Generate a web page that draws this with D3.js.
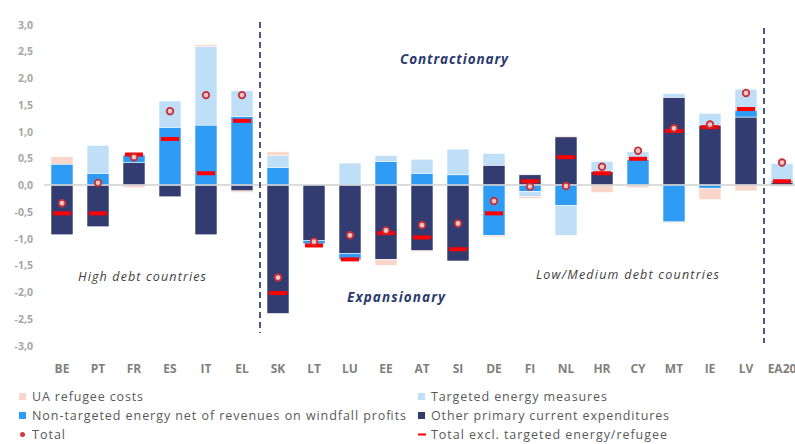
<!DOCTYPE html>
<html>
<head>
<meta charset="utf-8">
<script src="https://cdn.jsdelivr.net/npm/d3@7"></script>
<style>
  body { margin: 0; background: #fff; }
  svg { display: block; font-family: "Open Sans", "Liberation Sans", sans-serif; }
</style>
</head>
<body>
<svg width="795" height="444"></svg>
<script>
// Data
var countries = ["BE", "PT", "FR", "ES", "IT", "EL", "SK", "LT", "LU", "EE", "AT", "SI", "DE", "FI", "NL", "HR", "CY", "MT", "IE", "LV", "EA20"];
var otherPrimary = [-0.93, -0.78, 0.42, -0.22, -0.93, -0.11, -2.40, -1.04, -1.28, -1.39, -1.23, -1.42, 0.37, 0.19, 0.90, 0.25, 0.00, 1.64, 1.12, 1.27, 0.05];
var nonTargeted = [0.39, 0.22, 0.14, 1.08, 1.12, 1.28, 0.33, -0.06, -0.12, 0.44, 0.22, 0.19, -0.94, -0.12, -0.38, 0.00, 0.48, -0.69, -0.06, 0.13, 0.03];
var targeted = [0.00, 0.52, 0.00, 0.49, 1.47, 0.48, 0.22, 0.00, 0.41, 0.11, 0.26, 0.48, 0.22, -0.10, -0.56, 0.19, 0.14, 0.07, 0.22, 0.39, 0.32];
var refugee = [0.14, 0.00, -0.05, 0.00, 0.03, -0.03, 0.07, 0.00, 0.00, -0.11, -0.02, 0.00, -0.03, -0.03, 0.02, -0.14, -0.05, -0.02, -0.21, -0.11, -0.03];
var total = [-0.34, 0.04, 0.52, 1.38, 1.68, 1.68, -1.73, -1.06, -0.94, -0.85, -0.75, -0.72, -0.30, -0.03, -0.02, 0.34, 0.64, 1.06, 1.13, 1.72, 0.42];
var totalExcl = [-0.53, -0.53, 0.57, 0.86, 0.22, 1.20, -2.02, -1.13, -1.39, -0.90, -0.98, -1.20, -0.53, 0.07, 0.52, 0.22, 0.49, 1.01, 1.08, 1.42, 0.07];
var yTicks = [-3, -2.5, -2, -1.5, -1, -0.5, 0, 0.5, 1, 1.5, 2, 2.5, 3];

var svg = d3.select("svg");

var keys = ["other", "nonTargeted", "targeted", "refugee"];
var colors = { other: "#333c70", nonTargeted: "#2e9bf5", targeted: "#bfdff8", refugee: "#f9d6c9" };

var rows = countries.map(function (c, i) {
    return { country: c, other: otherPrimary[i], nonTargeted: nonTargeted[i], targeted: targeted[i], refugee: refugee[i], total: total[i], excl: totalExcl[i] };
});

var x = d3.scaleBand()
    .domain(countries)
    .range([44, 800])
    .paddingInner(0.39)
    .paddingOuter(0.195);

var y = d3.scaleLinear()
    .domain([-3, 3])
    .range([345.5, 24.5]);

// y axis labels
svg.append("g")
    .selectAll("text")
    .data(yTicks)
    .enter()
    .append("text")
    .attr("x", 33)
    .attr("y", function (d) { return y(d) + 4; })
    .attr("text-anchor", "end")
    .attr("font-size", 10.5)
    .attr("font-weight", "bold")
    .attr("fill", "#a6a6a6")
    .text(function (d) { return d3.format(".1f")(d).replace(".", ",").replace("−", "-"); });

// stacked bars
var series = d3.stack().keys(keys).offset(d3.stackOffsetDiverging)(rows);

svg.append("g")
    .selectAll("g")
    .data(series)
    .enter()
    .append("g")
    .attr("fill", function (d) { return colors[d.key]; })
    .selectAll("rect")
    .data(function (d) { return d; })
    .enter()
    .append("rect")
    .attr("x", function (d) { return x(d.data.country); })
    .attr("width", x.bandwidth())
    .attr("y", function (d) { return y(Math.max(d[0], d[1])); })
    .attr("height", function (d) { return Math.abs(y(d[0]) - y(d[1])); })
    .attr("stroke", "#fff")
    .attr("stroke-width", 0.5);

// zero line
svg.append("line")
    .attr("x1", 44)
    .attr("x2", 795)
    .attr("y1", y(0))
    .attr("y2", y(0))
    .attr("stroke", "#d0d0d0")
    .attr("stroke-width", 1.5);

// total excl. targeted energy/refugee (red dashes)
svg.append("g")
    .selectAll("rect")
    .data(rows)
    .enter()
    .append("rect")
    .attr("x", function (d) { return x(d.country) + x.bandwidth() / 2 - 9; })
    .attr("y", function (d) { return y(d.excl) - 2; })
    .attr("width", 18)
    .attr("height", 4)
    .attr("fill", "#ff0000");

// total (circles)
svg.append("g")
    .selectAll("circle")
    .data(rows)
    .enter()
    .append("circle")
    .attr("cx", function (d) { return x(d.country) + x.bandwidth() / 2; })
    .attr("cy", function (d) { return y(d.total); })
    .attr("r", 3.3)
    .attr("fill", "#f2c4c4")
    .attr("stroke", "#c6303a")
    .attr("stroke-width", 1.8);

// group separators
var separators = [["EL", "SK", 22, 333], ["LV", "EA20", 28, 343]];
svg.append("g")
    .selectAll("line")
    .data(separators)
    .enter()
    .append("line")
    .attr("x1", function (d) { return (x(d[0]) + x(d[1]) + x.bandwidth()) / 2; })
    .attr("x2", function (d) { return (x(d[0]) + x(d[1]) + x.bandwidth()) / 2; })
    .attr("y1", function (d) { return d[2]; })
    .attr("y2", function (d) { return d[3]; })
    .attr("stroke", "#3b4477")
    .attr("stroke-width", 1.8)
    .attr("stroke-dasharray", "6,4");

// x axis labels
svg.append("g")
    .selectAll("text")
    .data(countries)
    .enter()
    .append("text")
    .attr("x", function (d) { return x(d) + x.bandwidth() / 2; })
    .attr("y", 373)
    .attr("text-anchor", "middle")
    .attr("font-size", 12)
    .attr("font-weight", "bold")
    .attr("fill", "#7f7f7f")
    .text(function (d) { return d; });

// annotations
var notes = [
    { t: "Contractionary", x: 400, w: 108, y: 64, bold: true, color: "#2b3a6e", size: 13.5 },
    { t: "Expansionary", x: 347, w: 98, y: 302, bold: true, color: "#2b3a6e", size: 13.5 },
    { t: "High debt countries", x: 78, w: 128, y: 281, bold: false, color: "#404040", size: 12.5 },
    { t: "Low/Medium debt countries", x: 536, w: 183, y: 279, bold: false, color: "#404040", size: 12.5 }
];
svg.append("g")
    .selectAll("text")
    .data(notes)
    .enter()
    .append("text")
    .attr("x", function (d) { return d.x; })
    .attr("y", function (d) { return d.y; })
    .attr("textLength", function (d) { return d.w; })
    .attr("lengthAdjust", "spacing")
    .attr("font-style", "italic")
    .attr("font-weight", function (d) { return d.bold ? "bold" : "normal"; })
    .attr("font-size", function (d) { return d.size; })
    .attr("fill", function (d) { return d.color; })
    .text(function (d) { return d.t; });

// legend
var legendItems = [
    { label: "UA refugee costs", kind: "box", color: colors.refugee, x: 19, y: 397, w: 111 },
    { label: "Targeted energy measures", kind: "box", color: colors.targeted, x: 418, y: 397, w: 176 },
    { label: "Non-targeted energy net of revenues on windfall profits", kind: "box", color: colors.nonTargeted, x: 19, y: 416, w: 374 },
    { label: "Other primary current expenditures", kind: "box", color: colors.other, x: 418, y: 416, w: 238 },
    { label: "Total", kind: "dot", color: "#d9363e", x: 19, y: 435, w: 33 },
    { label: "Total excl. targeted energy/refugee", kind: "dash", color: "#ff0000", x: 418, y: 435, w: 236 }
];
var lg = svg.append("g")
    .selectAll("g")
    .data(legendItems)
    .enter()
    .append("g")
    .attr("transform", function (d) { return "translate(" + d.x + "," + d.y + ")"; });

lg.filter(function (d) { return d.kind == "box"; })
    .append("rect")
    .attr("x", 0).attr("y", -4).attr("width", 7).attr("height", 7)
    .attr("fill", function (d) { return d.color; });
lg.filter(function (d) { return d.kind == "dot"; })
    .append("circle")
    .attr("cx", 3.5).attr("cy", -0.5).attr("r", 2.5)
    .attr("fill", function (d) { return d.color; });
lg.filter(function (d) { return d.kind == "dash"; })
    .append("rect")
    .attr("x", 0).attr("y", -1.5).attr("width", 8).attr("height", 2)
    .attr("fill", function (d) { return d.color; });

lg.append("text")
    .attr("x", 13)
    .attr("y", 4)
    .attr("textLength", function (d) { return d.w; })
    .attr("lengthAdjust", "spacing")
    .attr("font-size", 12.5)
    .attr("fill", "#595959")
    .text(function (d) { return d.label; });
</script>
</body>
</html>
